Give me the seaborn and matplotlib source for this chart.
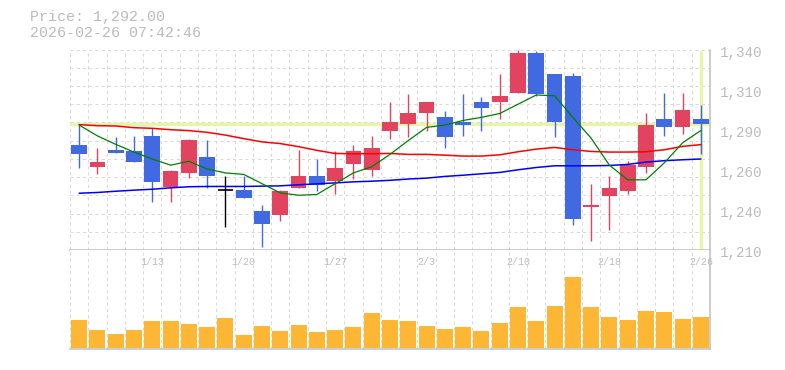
import numpy as np
import pandas as pd
import seaborn as sns
import matplotlib.pyplot as plt
from matplotlib.transforms import blended_transform_factory, offset_copy

# Daily candles (JPY)
dates = ['1/6', '1/7', '1/8', '1/9', '1/13', '1/14', '1/15', '1/16', '1/19', '1/20',
         '1/21', '1/22', '1/23', '1/26', '1/27', '1/28', '1/29', '1/30', '2/2', '2/3',
         '2/4', '2/5', '2/6', '2/9', '2/10', '2/12', '2/13', '2/16', '2/17', '2/18',
         '2/19', '2/20', '2/24', '2/25', '2/26']
opens = [1278, 1264, 1275, 1274, 1284, 1251, 1260, 1270, 1249, 1249,
         1235, 1233, 1250, 1258, 1255, 1266, 1262, 1287, 1292, 1299,
         1296, 1293, 1306, 1306, 1312, 1338, 1324, 1323, 1238, 1245,
         1248, 1264, 1295, 1290, 1295]
highs = [1291, 1276, 1283, 1284, 1289, 1262, 1282, 1281, 1258, 1258,
         1239, 1249, 1275, 1269, 1274, 1278, 1284, 1306, 1311, 1306,
         1300, 1311, 1309, 1324, 1340, 1339, 1324, 1325, 1253, 1258,
         1268, 1299, 1312, 1312, 1304]
lows = [1263, 1259, 1273, 1267, 1241, 1241, 1257, 1250, 1225, 1244,
        1212, 1229, 1250, 1248, 1246, 1256, 1258, 1282, 1283, 1287,
        1276, 1284, 1287, 1295, 1312, 1310, 1283, 1226, 1216, 1223,
        1246, 1260, 1284, 1285, 1272]
closes = [1272, 1267, 1273, 1267, 1254, 1261, 1281, 1258, 1249, 1244,
          1227, 1248, 1258, 1252, 1263, 1274, 1276, 1293, 1299, 1306,
          1283, 1291, 1302, 1310, 1338, 1311, 1293, 1230, 1239, 1250,
          1265, 1291, 1290, 1301, 1292]
# volume in relative units (no scale shown on the chart)
volume = [28, 18, 14, 18, 27, 27, 24, 21, 30, 13,
          22, 17, 23, 16, 18, 21, 35, 28, 27, 22,
          19, 21, 17, 25, 41, 27, 42, 71, 41, 31,
          28, 37, 36, 29, 31]
# moving averages as drawn
ma_short = [1291, 1284, 1278.5, 1273.5, 1269, 1265, 1267.5, 1262.5, 1260, 1259,
            1253, 1247, 1245.5, 1246, 1253, 1260, 1264, 1272, 1281, 1289.5,
            1291, 1294, 1296, 1298.5, 1304.5, 1310.5, 1310, 1296, 1282.5, 1265,
            1255.5, 1255.5, 1266.5, 1279.5, 1287.5]
ma_mid = [1291.3, 1290.6, 1290.4, 1289.3, 1288.9, 1288, 1287.4, 1286.3, 1284.5, 1282.2,
          1280.1, 1279, 1277, 1274.6, 1272.6, 1272.4, 1272.4, 1272.6, 1272, 1272,
          1271.5, 1270.9, 1270.9, 1271.7, 1273.7, 1275.4, 1276.5, 1275, 1273.9, 1273.5,
          1273.5, 1273.7, 1275, 1277.2, 1278.3]
ma_long = [1246.8, 1247.3, 1248.1, 1248.8, 1249.4, 1250.3, 1251, 1251.2, 1251.2, 1251.2,
           1251.4, 1251.6, 1252.3, 1252.9, 1253.5, 1254.2, 1254.6, 1255.2, 1256, 1256.6,
           1257.7, 1258.5, 1259.4, 1260.3, 1262, 1263.5, 1264.6, 1264.6, 1264.6, 1264.8,
           1265.5, 1267, 1267.9, 1268.5, 1269]

tick_dates = ['1/13', '1/20', '1/27', '2/3', '2/10', '2/18', '2/26']
price_ticks = [1210, 1236, 1262, 1288, 1314, 1340]
price_min, price_max = 1210, 1340
last_price = 1292
stamp = '2026-02-26 07:42:46'

RED = '#e2445f'
BLUE = '#4169e1'
ORANGE = '#fdb734'
HILITE = '#e6f5a6'
GRID = '#d9d9d9'
FRAME = '#c4c4c4'
TEXT = '#bcbcbc'

df = pd.DataFrame({'idx': np.arange(len(dates)), 'date': dates, 'open': opens,
                   'high': highs, 'low': lows, 'close': closes, 'volume': volume,
                   'ma_short': ma_short, 'ma_mid': ma_mid, 'ma_long': ma_long})

sns.set_style("white")
plt.rcParams['font.family'] = ['Liberation Mono', 'DejaVu Sans Mono']

fig = plt.figure(figsize=(7.85, 3.70), dpi=100)
ax = fig.add_axes([70 / 785, 120 / 370, 640 / 785, 200.5 / 370])
axv = fig.add_axes([70 / 785, 21 / 370, 640 / 785, 99 / 370])

n = len(df)
W = 0.86

# price panel
ax.axhline(last_price, color=HILITE, lw=2.3, zorder=1)
ax.axvline(n - 1, ymin=0.01, ymax=0.99, color=HILITE, lw=2.3, zorder=1)

colors = np.where(df.close > df.open, RED, np.where(df.close < df.open, BLUE, 'black'))
ax.vlines(df.idx, df.low, df.high, colors=colors, lw=1, zorder=3)
body = df[df.close != df.open]
ax.bar(body.idx, (body.close - body.open).abs(), bottom=np.minimum(body.open, body.close),
       width=W, color=colors[df.close != df.open], zorder=4, linewidth=0)
doji = df[df.close == df.open]
ax.hlines(doji.open, doji.idx - W / 2, doji.idx + W / 2, colors='black', lw=1.2, zorder=4)

sns.lineplot(data=df, x='idx', y='ma_mid', color='#ff0000', lw=1.1, ax=ax, zorder=5)
sns.lineplot(data=df, x='idx', y='ma_long', color='#0000ff', lw=1.1, ax=ax, zorder=5)
sns.lineplot(data=df, x='idx', y='ma_short', color='#008000', lw=0.9, ax=ax, zorder=5)

ax.set_xlim(-0.5, n - 0.5)
ax.set_ylim(price_min, price_max)
ax.set_xticks(np.arange(-0.5, n, 1), minor=True)
ax.set_yticks(np.linspace(price_min, price_max, 12), minor=True)
ax.set_xticks([])
ax.set_yticks([])
ax.tick_params(which='both', length=0)
ax.grid(which='minor', color=GRID, lw=0.75, ls=(0, (3, 3)))
ax.set_xlabel('')
ax.set_ylabel('')
for s in ['top', 'left']:
    ax.spines[s].set_visible(False)
for s in ['bottom', 'right']:
    ax.spines[s].set_color(FRAME)
    ax.spines[s].set_linewidth(1.2)

# price labels on the right, sitting a few pixels below their level
ytr = offset_copy(blended_transform_factory(ax.transAxes, ax.transData), fig=fig,
                  x=10, y=-3, units='dots')
for v in price_ticks:
    ax.text(1.0, v, f'{int(round(v, -1)):,}', transform=ytr, ha='left', va='center',
            fontsize=10.3, color=TEXT, clip_on=False)

# volume panel
sns.barplot(data=df, x='idx', y='volume', color=ORANGE, saturation=1, width=0.88,
            errorbar=None, native_scale=True, ax=axv, zorder=3, linewidth=0)
axv.set_xlim(-0.5, n - 0.5)
axv.set_ylim(-1, 98)
axv.set_xticks(np.arange(-0.5, n, 1), minor=True)
axv.set_xticks([])
axv.set_yticks([])
axv.tick_params(which='both', length=0)
axv.grid(which='minor', axis='x', color=GRID, lw=0.75, ls=(0, (3, 3)))
axv.set_xlabel('')
axv.set_ylabel('')
for s in ['top', 'left']:
    axv.spines[s].set_visible(False)
for s in ['bottom', 'right']:
    axv.spines[s].set_color(FRAME)
    axv.spines[s].set_linewidth(1.2)

tr = blended_transform_factory(axv.transData, axv.transAxes)
for d in tick_dates:
    axv.text(dates.index(d), 0.88, d, transform=tr, ha='center', va='center',
             fontsize=7.2, color=TEXT, zorder=6)

fig.text(30 / 785, 1 - 17 / 370, f'Price: {last_price:,.2f}', ha='left', va='center',
         fontsize=10.8, color=TEXT)
fig.text(30 / 785, 1 - 33 / 370, stamp, ha='left', va='center', fontsize=10.8, color=TEXT)

fig.savefig('out.png', dpi=100)
